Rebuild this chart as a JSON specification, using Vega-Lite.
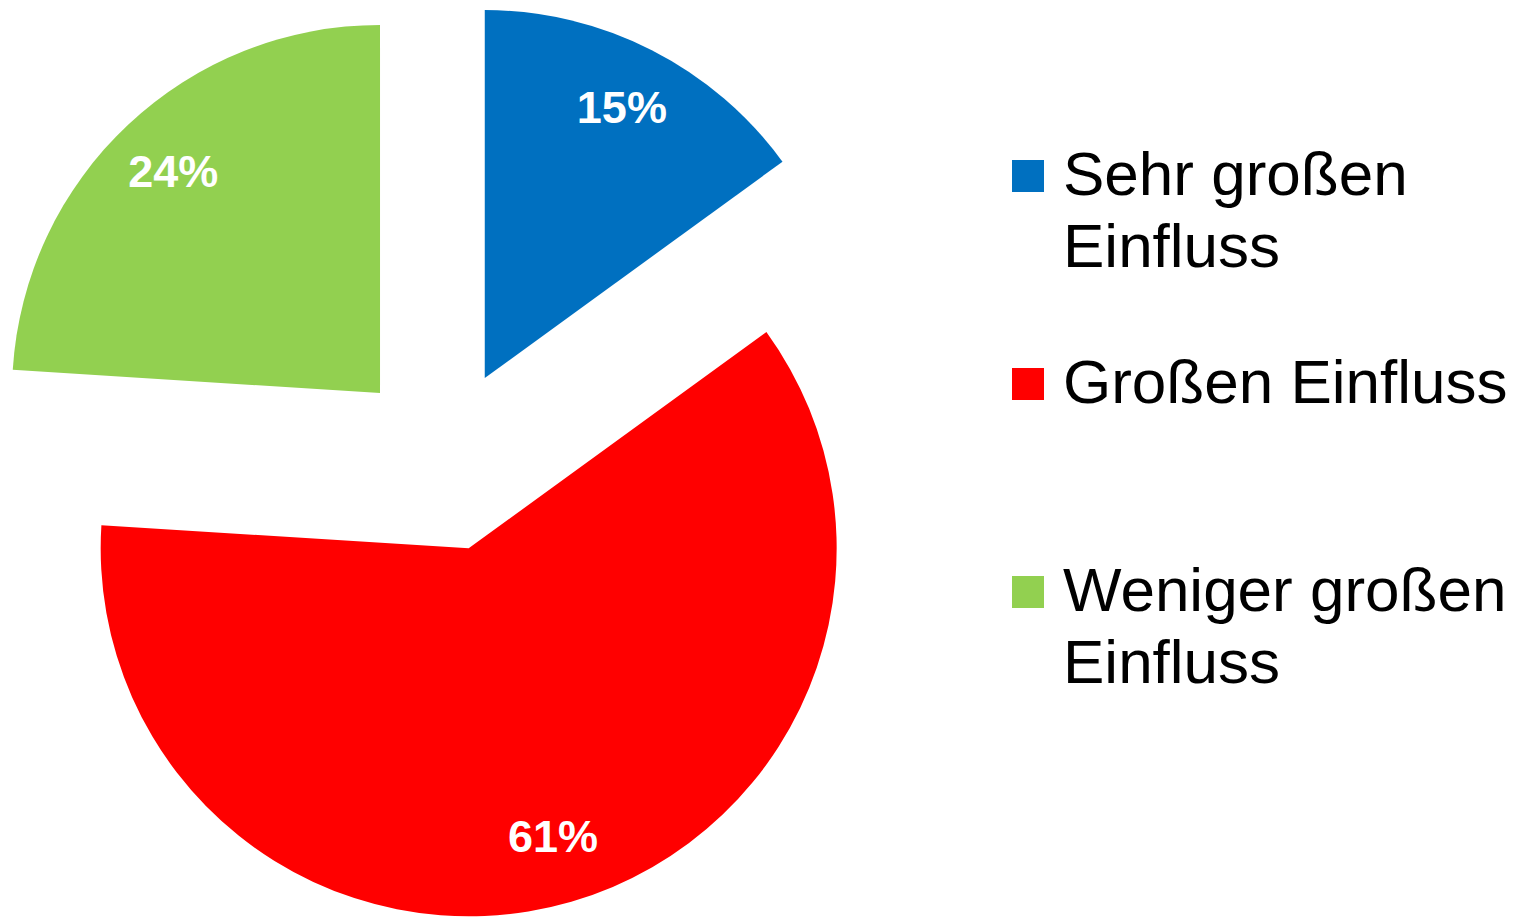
{
  "$schema": "https://vega.github.io/schema/vega-lite/v6.json",
  "width": 886,
  "height": 910,
  "padding": {"left": 0, "top": 5, "right": 0, "bottom": 0},
  "config": {"view": {"stroke": null}},
  "data": {
    "values": [
      {"cat": "Sehr großen Einfluss", "rank": 1, "value": 0.15},
      {"cat": "Großen Einfluss", "rank": 2, "value": 0.61},
      {"cat": "Weniger großen Einfluss", "rank": 3, "value": 0.24}
    ]
  },
  "encoding": {
    "theta": {"field": "value", "type": "quantitative", "stack": true},
    "order": {"field": "rank", "type": "quantitative", "sort": "ascending"},
    "color": {
      "field": "cat",
      "type": "nominal",
      "sort": ["Sehr großen Einfluss", "Großen Einfluss", "Weniger großen Einfluss"],
      "scale": {
        "domain": ["Sehr großen Einfluss", "Großen Einfluss", "Weniger großen Einfluss"],
        "range": ["#0070C0", "#FF0000", "#92D050"]
      },
      "legend": {
        "orient": "none",
        "legendX": 997,
        "legendY": 140,
        "title": null,
        "symbolType": "square",
        "symbolSize": 1024,
        "symbolStrokeWidth": 0,
        "labelFont": "Liberation Sans",
        "labelFontSize": 62,
        "labelColor": "black",
        "labelLimit": 1000,
        "labelOffset": 4,
        "labelBaseline": "top",
        "gridAlign": "all",
        "rowPadding": 74,
        "labelExpr": "datum.value == 'Großen Einfluss' ? datum.value : [replace(datum.value, ' Einfluss', ''), 'Einfluss']",
        "encode": {
          "labels": {"update": {"dy": {"value": -30}, "lineHeight": {"value": 72}}}
        }
      }
    }
  },
  "layer": [
    {
      "mark": {
        "type": "arc",
        "outerRadius": 368,
        "xOffset": {"expr": "92*sin(PI*(datum.value_start+datum.value_end))"},
        "yOffset": {"expr": "-92*cos(PI*(datum.value_start+datum.value_end))"}
      }
    },
    {
      "mark": {
        "type": "text",
        "radius": 302,
        "font": "Liberation Sans",
        "fontWeight": "bold",
        "fontSize": 45,
        "xOffset": {"expr": "92*sin(PI*(datum.value_start+datum.value_end))"},
        "yOffset": {"expr": "-92*cos(PI*(datum.value_start+datum.value_end))"}
      },
      "encoding": {
        "text": {"field": "value", "type": "quantitative", "format": ".0%"},
        "fill": {"value": "white"}
      }
    }
  ]
}
